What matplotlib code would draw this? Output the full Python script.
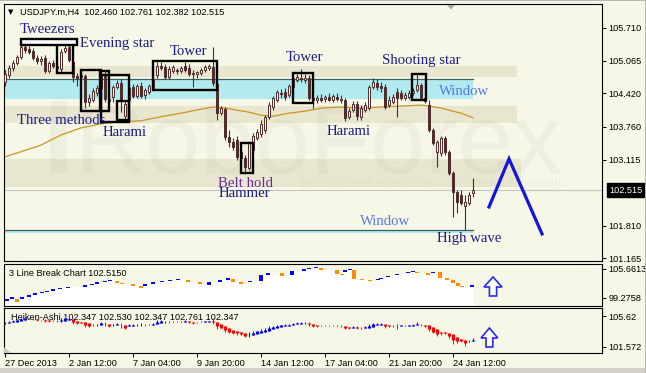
import matplotlib
matplotlib.use('Agg')
import matplotlib.pyplot as plt
from matplotlib.patches import Rectangle, Polygon
import matplotlib.transforms as mtransforms
import numpy as np

# ---------------- data ----------------
opens = [104.64, 104.78, 104.92, 105.02, 105.14, 105.33, 105.30, 105.26, 105.12, 105.06,
         105.12, 104.86, 105.02, 104.96, 104.90, 105.26, 105.33, 105.04, 104.76, 104.74,
         104.76, 104.25, 104.29, 104.43, 104.53, 104.76, 104.31, 104.35, 104.55, 104.62,
         103.98, 104.29, 104.55, 104.37, 104.57, 104.39, 104.45, 104.53, 104.78, 104.96,
         104.94, 104.74, 104.86, 104.88, 104.86, 104.96, 104.92, 104.80, 104.80, 104.82,
         104.88, 104.92, 104.94, 104.61, 104.03, 104.11, 103.56, 103.46, 103.50, 103.27,
         103.15, 102.95, 103.30, 103.54, 103.62, 103.70, 103.96, 104.15, 104.29, 104.43,
         104.45, 104.39, 104.55, 104.68, 104.72, 104.68, 104.72, 104.33, 104.29, 104.33,
         104.31, 104.35, 104.29, 104.35, 104.31, 104.29, 103.96, 104.09, 104.21, 103.96,
         104.09, 104.13, 104.55, 104.62, 104.57, 104.55, 104.19, 104.25, 104.45, 104.43,
         104.33, 104.35, 104.43, 104.49, 104.59, 104.33, 104.19, 103.70, 103.27, 103.25,
         103.54, 103.27, 102.85, 102.48, 102.42, 102.20, 102.26, 102.460]
highs = [104.88, 104.98, 105.08, 105.18, 105.39, 105.41, 105.35, 105.31, 105.18, 105.16,
         105.18, 105.06, 105.08, 105.04, 105.30, 105.41, 105.39, 105.08, 104.82, 104.84,
         104.80, 104.41, 104.53, 104.59, 104.84, 104.88, 104.39, 104.59, 104.68, 104.70,
         104.27, 104.59, 104.61, 104.61, 104.65, 104.53, 104.61, 104.76, 105.04, 105.04,
         105.00, 104.96, 104.98, 104.92, 104.96, 105.04, 105.00, 104.88, 104.86, 104.92,
         104.98, 105.00, 105.33, 104.65, 104.17, 104.15, 103.70, 103.54, 103.58, 103.35,
         103.21, 103.48, 103.64, 103.72, 103.90, 103.99, 104.25, 104.37, 104.49, 104.51,
         104.53, 104.61, 104.76, 104.80, 104.90, 104.80, 104.78, 104.37, 104.39, 104.41,
         104.39, 104.43, 104.41, 104.43, 104.39, 104.33, 104.13, 104.27, 104.27, 104.19,
         104.25, 104.59, 104.72, 104.70, 104.65, 104.61, 104.37, 104.41, 104.53, 104.49,
         104.45, 104.49, 104.53, 104.82, 104.63, 104.37, 104.29, 103.74, 103.50, 103.58,
         103.58, 103.30, 102.89, 102.52, 102.52, 102.42, 102.48, 102.761]
lows = [104.56, 104.72, 104.86, 104.98, 105.10, 105.22, 105.20, 105.08, 105.00, 104.98,
        104.82, 104.82, 104.92, 104.88, 104.84, 105.22, 105.04, 104.64, 104.56, 104.68,
        104.13, 104.17, 104.25, 104.37, 104.49, 104.25, 104.21, 104.25, 104.51, 104.05,
        103.90, 104.25, 104.33, 104.33, 104.33, 104.31, 104.41, 104.49, 104.72, 104.88,
        104.70, 104.70, 104.82, 104.80, 104.82, 104.84, 104.76, 104.55, 104.72, 104.78,
        104.84, 104.88, 104.57, 103.90, 103.99, 103.50, 103.37, 103.30, 103.11, 103.11,
        102.83, 102.91, 103.25, 103.50, 103.56, 103.64, 103.92, 104.09, 104.25, 104.33,
        104.29, 104.35, 104.51, 104.64, 104.64, 104.62, 104.29, 104.13, 104.23, 104.25,
        104.25, 104.27, 104.25, 104.27, 104.23, 103.88, 103.92, 104.05, 103.90, 103.90,
        104.05, 104.09, 104.51, 104.49, 104.45, 104.11, 104.15, 104.21, 103.96, 104.29,
        104.29, 104.31, 104.39, 104.45, 104.29, 104.23, 103.66, 103.40, 102.97, 103.19,
        103.21, 102.81, 101.98, 102.06, 102.22, 101.73, 102.22, 102.382]
closes = [104.80, 104.92, 105.02, 105.14, 105.33, 105.28, 105.24, 105.12, 105.06, 105.10,
          104.86, 105.02, 104.96, 104.92, 105.24, 105.31, 105.08, 104.74, 104.72, 104.78,
          104.25, 104.33, 104.47, 104.53, 104.76, 104.31, 104.27, 104.55, 104.62, 104.29,
          104.21, 104.53, 104.37, 104.57, 104.37, 104.49, 104.57, 104.70, 104.96, 104.92,
          104.74, 104.90, 104.94, 104.86, 104.92, 104.88, 104.80, 104.82, 104.84, 104.88,
          104.94, 104.96, 104.62, 104.03, 104.13, 103.56, 103.46, 103.37, 103.17, 103.15,
          102.97, 103.44, 103.58, 103.66, 103.82, 103.96, 104.19, 104.33, 104.45, 104.41,
          104.35, 104.57, 104.72, 104.74, 104.70, 104.72, 104.33, 104.29, 104.33, 104.29,
          104.35, 104.29, 104.37, 104.31, 104.29, 103.94, 104.07, 104.21, 103.98, 104.13,
          104.19, 104.55, 104.65, 104.55, 104.53, 104.15, 104.29, 104.35, 104.33, 104.33,
          104.39, 104.43, 104.47, 104.59, 104.33, 104.27, 103.70, 103.44, 103.46, 103.54,
          103.27, 102.85, 102.48, 102.28, 102.26, 102.28, 102.42, 102.515]

ma_x = [0, 4, 9, 14, 19, 24, 29, 34, 39, 44, 49, 52, 55, 58, 61, 64, 67, 71, 75, 79,
        84, 89, 94, 99, 104, 106, 109, 114, 117]
ma_y = [103.17, 103.27, 103.40, 103.60, 103.74, 103.82, 103.86, 103.88, 103.96, 104.03,
        104.11, 104.15, 104.13, 104.09, 104.05, 103.99, 103.97, 104.03, 104.07, 104.13,
        104.15, 104.13, 104.15, 104.17, 104.19, 104.17, 104.13, 104.03, 103.94]

# 3 Line Break blocks
lb_x = [0.5, 1.75, 3.0, 4.25, 6.0, 7.5, 9.25, 10.5, 12.0, 13.75, 15.75, 20.0, 21.75, 23.0,
        25.0, 26.25, 28.0, 29.25, 32.0, 34.0, 35.0, 37.0, 39.25, 41.25, 43.25, 45.75, 48.75,
        51.0, 53.75, 55.75, 57.0, 59.0, 61.25, 64.0, 65.75, 69.25, 71.75, 74.75, 76.0, 77.75,
        79.0, 83.0, 84.25, 85.0, 86.25, 87.25, 89.25, 91.25, 93.25, 94.0, 95.75, 98.0,
        100.75, 102.0, 103.0, 105.75, 107.0, 108.75, 110.5, 112.0, 113.25, 114.25, 116.75]
lb_hi = [99.06, 99.50, 99.06, 99.50, 99.94, 100.38, 100.60, 100.82, 101.26, 101.48, 101.70,
         102.14, 102.36, 102.80, 103.02, 103.24, 103.02, 102.58, 102.36, 101.92, 102.36,
         102.80, 103.02, 103.24, 103.46, 103.24, 102.80, 102.80, 103.24, 103.68, 103.46,
         102.80, 103.02, 104.34, 104.78, 104.78, 105.22, 105.66, 105.88, 106.10, 105.88,
         105.44, 104.56, 105.44, 105.66, 105.44, 103.46, 103.24, 103.46, 103.68, 104.12,
         104.56, 105.00, 105.22, 105.00, 104.78, 105.00, 105.00, 103.68, 103.24, 102.58,
         101.92, 102.14]
lb_lo = [98.62, 99.06, 98.40, 99.06, 99.50, 99.94, 100.38, 100.60, 100.82, 101.26, 101.48,
         101.70, 102.14, 102.36, 102.80, 103.02, 102.58, 102.36, 101.92, 101.48, 101.92,
         102.36, 102.80, 103.02, 103.24, 102.80, 102.36, 102.14, 102.80, 103.24, 102.80,
         102.36, 102.80, 103.02, 104.34, 104.12, 104.34, 105.22, 105.66, 105.88, 105.44,
         104.56, 104.34, 105.00, 105.44, 103.46, 103.24, 103.02, 103.24, 103.46, 103.90,
         104.34, 104.78, 105.00, 104.78, 104.34, 104.78, 103.68, 103.24, 102.58, 101.92,
         101.70, 101.70]
lb_up = [1, 1, 0, 1, 1, 1, 1, 1, 1, 1, 1, 1, 1, 1, 1, 1, 0, 0, 0, 0, 1, 1, 1, 1, 1, 0, 0,
         1, 1, 1, 0, 0, 1, 1, 1, 0, 1, 1, 1, 1, 0, 0, 0, 1, 1, 0, 0, 0, 1, 1, 1, 1, 1, 1,
         0, 0, 1, 0, 0, 0, 0, 0, 1]

tick_idx = [0, 16, 32, 48, 64, 80, 96, 112]
tick_lbl = ['27 Dec 2013', '2 Jan 12:00', '7 Jan 04:00', '9 Jan 20:00',
            '14 Jan 12:00', '17 Jan 04:00', '21 Jan 20:00', '24 Jan 12:00']
price_ticks = [105.710, 105.065, 104.420, 103.760, 103.115, 101.810, 101.165]
lb_ticks = [105.6613, 99.2758]
ha_ticks = [105.62, 101.572]
last_price = 102.515

# pattern boxes: (x0, x1, price_low, price_high)
boxes = [(12.93, 17.08, 104.83, 105.41), (18.9, 23.9, 104.07, 104.88),
         (23.75, 26.1, 104.07, 104.86), (23.9, 31.1, 103.86, 104.78),
         (27.9, 31.1, 103.90, 104.27), (36.9, 53.1, 104.49, 105.06),
         (58.9, 62.1, 102.85, 103.45), (71.9, 77.1, 104.23, 104.83),
         (101.8, 105.2, 104.29, 104.80)]
tweezer_box = (3.93, 18.08, 105.375, 105.49)

NAVY = '#1c1c86'
LBLUE = '#5878e8'
PURP = '#6a2a98'
labels = [('Tweezers', 3.75, 105.69, NAVY), ('Evening star', 18.75, 105.41, NAVY),
          ('Tower', 41.25, 105.24, NAVY), ('Tower', 70.25, 105.12, NAVY),
          ('Shooting star', 94.25, 105.06, NAVY), ('Window', 108.5, 104.45, LBLUE),
          ('Three methods', 3.0, 103.88, NAVY), ('Harami', 24.5, 103.64, NAVY),
          ('Harami', 80.5, 103.66, NAVY), ('Belt hold', 53.25, 102.65, PURP),
          ('Hammer', 53.5, 102.44, NAVY), ('Window', 88.75, 101.90, LBLUE),
          ('High wave', 108.0, 101.55, NAVY)]

forecast_x = [121, 126, 134.25]
forecast_y = [102.18, 103.13, 101.65]

# ---------------- figure ----------------
W, H = 646, 373
BG = '#F7F7E7'
BEIGE = '#E8E6CF'
CYAN = '#B2EBEF'
CANDLE = '#4E2C2C'
SANS = 'Liberation Sans'
SERIF = 'Liberation Serif'
SMALL = 6.6

fig = plt.figure(figsize=(W / 100, H / 100), dpi=100)
fig.patch.set_facecolor(BG)


def rect(x0, y0, x1, y1):
    return [x0 / W, 1 - y1 / H, (x1 - x0) / W, (y1 - y0) / H]


ax = fig.add_axes(rect(4, 4, 602, 261))
ax2 = fig.add_axes(rect(4, 264, 602, 306))
ax3 = fig.add_axes(rect(4, 308, 602, 353))
XL = (-0.25, 149.25)
for a in (ax, ax2, ax3):
    a.set_facecolor(BG)
    a.set_xlim(*XL)
    for s in a.spines.values():
        s.set_color('black')
        s.set_linewidth(0.8)
    a.yaxis.tick_right()
    a.tick_params(axis='y', direction='out', length=3, width=0.7, pad=1.8,
                  labelsize=SMALL, colors='black')

ax.set_ylim(101.115, 106.183)
ax2.set_ylim(97.514, 106.762)
ax3.set_ylim(100.788, 106.665)

# main panel ---------------------------------------------------
ax.set_xticks([])
ax.set_yticks(price_ticks)
ax.set_yticklabels([f'{v:.3f}' for v in price_ticks], fontfamily=SANS, fontsize=SMALL)

# bands
ax.add_patch(Rectangle((XL[0], 104.74), 128 - XL[0], 0.22, color=BEIGE, lw=0, zorder=1))
ax.add_patch(Rectangle((XL[0], 103.84), 128 - XL[0], 0.33, color=BEIGE, lw=0, zorder=1))
ax.add_patch(Rectangle((XL[0], 102.57), 129 - XL[0], 0.56, color=BEIGE, lw=0, zorder=1))
ax.add_patch(Rectangle((XL[0], 104.31), 117 - XL[0], 0.39, color=CYAN, lw=0, zorder=1.1))
ax.plot([XL[0], 117], [104.70, 104.70], color='#3a6464', lw=0.9, zorder=1.2)
ax.add_patch(Rectangle((XL[0], 101.675), 117 - XL[0], 0.055, color=CYAN, lw=0, zorder=1.1))
ax.plot([XL[0], 117], [101.73, 101.73], color='#3a6464', lw=0.9, zorder=1.2)

# watermarks
ax.text(17.5, 102.86, 'RoboForex', fontsize=71, family=SANS, color='#8a8a70', alpha=0.065,
        ha='left', va='baseline', zorder=1.5)
ax.add_patch(Rectangle((11.3, 102.86), 4.2, 1.42, color='#8a8a70', alpha=0.065, lw=0, zorder=1.5))
ax.text(74, 102.63, 'ИСПОЛЬЗУЙ РОБОТОВ — ПОЛУЧАЙ ПРИБЫЛЬ', fontsize=8, family='DejaVu Sans',
        color='#8a8a70', alpha=0.08, ha='left', va='center', zorder=1.5)

# current price line
ax.axhline(last_price, color='#c4c4c4', lw=0.8, zorder=1.3)

# moving average
ax.plot(ma_x, ma_y, color='#C8961E', lw=0.9, zorder=2)

# candles
n = len(closes)
for i in range(n):
    o, h, l, c = opens[i], highs[i], lows[i], closes[i]
    ax.plot([i, i], [l, h], color=CANDLE, lw=0.8, zorder=3, solid_capstyle='butt')
    lo, hi = min(o, c), max(o, c)
    fc = BG if c >= o else CANDLE
    ax.add_patch(Rectangle((i - 0.33, lo), 0.66, max(hi - lo, 0.008), facecolor=fc,
                           edgecolor=CANDLE, lw=0.7, zorder=3.2))

# pattern boxes
for x0, x1, p0, p1 in boxes:
    ax.add_patch(Rectangle((x0, p0), x1 - x0, p1 - p0, fill=False, edgecolor='black',
                           lw=1.7, zorder=4))
x0, x1, p0, p1 = tweezer_box
ax.add_patch(Rectangle((x0, p0), x1 - x0, p1 - p0, facecolor='white', edgecolor='black',
                       lw=1.7, zorder=4))

for txt, x, y, col in labels:
    ax.text(x, y, txt, fontsize=10.6, family=SERIF, color=col, ha='left', va='center',
            zorder=5)

# forecast zigzag
ax.plot(forecast_x, forecast_y, color='#1414DC', lw=2.3, zorder=5, solid_joinstyle='miter')

# header
fig.text(8 / W, 1 - 12.5 / H, '▼', fontsize=5, family='DejaVu Sans', color='black',
         ha='left', va='center')
fig.text(20 / W, 1 - 12.5 / H, 'USDJPY.m,H4  102.460 102.761 102.382 102.515',
         fontsize=SMALL, family=SANS, color='black', ha='left', va='center')
fig.patches.append(Polygon([[447 / W, 1 - 5 / H], [455 / W, 1 - 5 / H], [451 / W, 1 - 9.5 / H]],
                           closed=True, transform=fig.transFigure, facecolor='#a8a8a8',
                           edgecolor='none', figure=fig))

# last price label
blend = mtransforms.blended_transform_factory(ax.transAxes, ax.transData)
ax.text(1.012, last_price, f'{last_price:.3f}', transform=blend, color='white',
        fontsize=SMALL, family=SANS, ha='left', va='center', zorder=10, clip_on=False,
        bbox=dict(boxstyle='square,pad=0.22', facecolor='black', edgecolor='black'))

# 3 line break panel --------------------------------------------
ax2.set_xticks([])
ax2.set_yticks(lb_ticks)
ax2.set_yticklabels([f'{v:.4f}' for v in lb_ticks], fontfamily=SANS, fontsize=SMALL)
levels = [hi if up else lo for hi, lo, up in zip(lb_hi, lb_lo, lb_up)]
xs = [x - 0.4 for x in lb_x] + [lb_x[-1] + 0.45]
ys = levels + [levels[-1]]
ax2.fill_between(xs, ys, 97.0, step='post', color='white', lw=0, zorder=1)
for x, hi, lo, up in zip(lb_x, lb_hi, lb_lo, lb_up):
    ax2.add_patch(Rectangle((x - 0.4, lo), 0.8, hi - lo,
                            facecolor='#0000FF' if up else '#FF8C00', lw=0, zorder=2))
ax2.text(0.008, 0.78, '3 Line Break Chart 102.5150', transform=ax2.transAxes,
         fontsize=SMALL, family=SANS, color='black', ha='left', va='center', zorder=3)


def up_arrow(a, xc, tip, head, base, hw, sw):
    pts = [[xc, tip], [xc + hw, head], [xc + sw, head], [xc + sw, base],
           [xc - sw, base], [xc - sw, head], [xc - hw, head]]
    a.add_patch(Polygon(pts, closed=True, facecolor='white', edgecolor='#2a2aee',
                        lw=1.2, zorder=5))


up_arrow(ax2, 122.0, 103.90, 101.70, 99.72, 2.25, 0.9)

# heiken ashi panel ---------------------------------------------
ax3.set_yticks(ha_ticks)
ax3.set_yticklabels(['105.62', '101.572'], fontfamily=SANS, fontsize=SMALL)
ha_c = [(o + h + l + c) / 4 for o, h, l, c in zip(opens, highs, lows, closes)]
ha_o = [(opens[0] + closes[0]) / 2]
for i in range(1, n):
    ha_o.append((ha_o[i - 1] + ha_c[i - 1]) / 2)
ax3.text(0.012, 0.80, 'Heiken-Ashi 102.347 102.530 102.347 102.761 102.347',
         transform=ax3.transAxes, fontsize=SMALL, family=SANS, color='black',
         ha='left', va='center', zorder=1)
for i in range(n):
    hh = max(highs[i], ha_o[i], ha_c[i])
    ll = min(lows[i], ha_o[i], ha_c[i])
    col = '#0000FF' if ha_c[i] >= ha_o[i] else '#FF0000'
    ax3.plot([i, i], [ll, hh], color=col, lw=0.7, zorder=2, solid_capstyle='butt')
    ax3.plot([i, i], [ha_o[i], ha_c[i]], color=col, lw=2.3, zorder=2.2,
             solid_capstyle='butt')
up_arrow(ax3, 121.1, 104.05, 102.75, 101.57, 2.1, 0.85)
ax3.add_patch(Polygon([[XL[0], 100.788], [XL[0], 101.55], [1.6, 100.788]], closed=True,
                      facecolor='#c8c8c8', edgecolor='none', zorder=3))

ax3.set_xticks(tick_idx)
ax3.set_xticklabels(tick_lbl, fontfamily=SANS, fontsize=SMALL, ha='left')
ax3.tick_params(axis='x', direction='out', length=3, width=0.7, pad=1.0, colors='black')

# window frame bits
fig.patches.append(Rectangle((0, 0), 1, 5 / H, transform=fig.transFigure,
                             facecolor='#D4D0C8', edgecolor='none', figure=fig))
fig.patches.append(Rectangle((644.5 / W, 0), 1.5 / W, 1, transform=fig.transFigure,
                             facecolor='#B8B8B0', edgecolor='none', figure=fig))
fig.patches.append(Rectangle((0, 1 - 1.2 / H), 1, 1.2 / H, transform=fig.transFigure,
                             facecolor='#B8B8B0', edgecolor='none', figure=fig))

fig.savefig('out.png', dpi=100, facecolor=BG)
